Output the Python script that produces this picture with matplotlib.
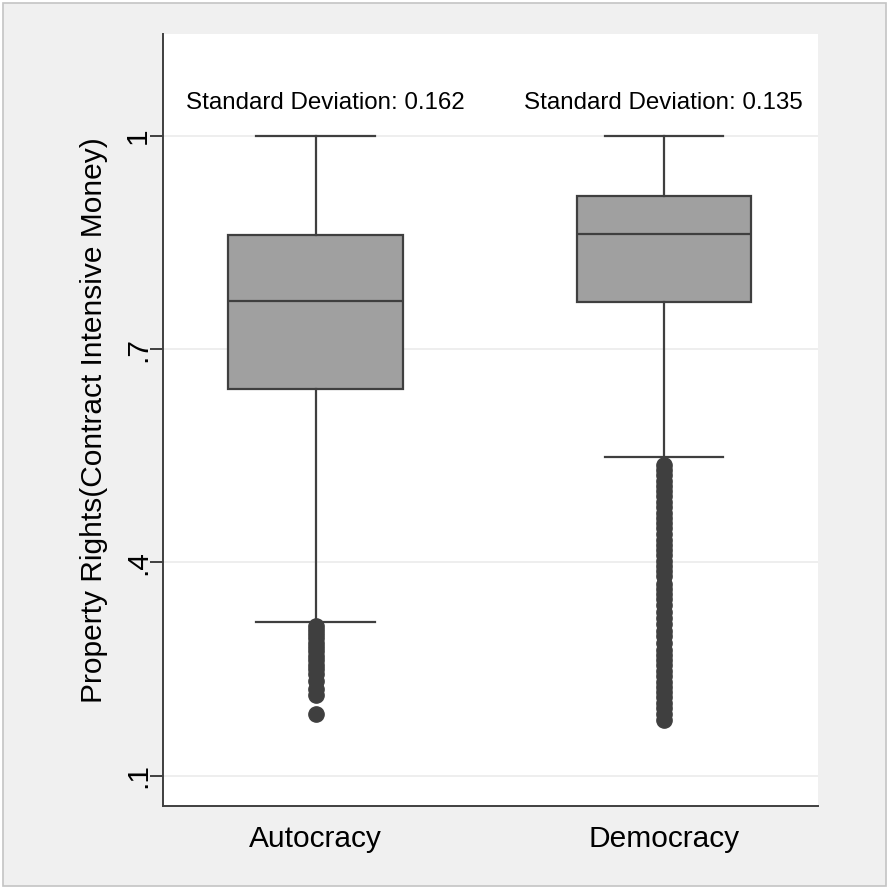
import matplotlib.pyplot as plt
from matplotlib.patches import Rectangle

# Box plot summary
regimes = ["Autocracy", "Democracy"]
medians = [0.768, 0.862]
q1s = [0.644, 0.766]
q3s = [0.861, 0.915]
whisker_lo = [0.316, 0.548]
whisker_hi = [1.0, 1.0]
std_devs = [0.162, 0.135]

autocracy_outliers = [0.310, 0.305, 0.299, 0.293, 0.287, 0.281, 0.275, 0.268,
                      0.262, 0.256, 0.250, 0.243, 0.233, 0.222, 0.214, 0.187]
democracy_outliers = [0.537, 0.530, 0.523, 0.515, 0.507, 0.500, 0.493, 0.485,
                      0.478, 0.470, 0.462, 0.455, 0.448, 0.440, 0.432, 0.425,
                      0.417, 0.410, 0.402, 0.395, 0.388, 0.381, 0.370, 0.363,
                      0.356, 0.349, 0.340, 0.330, 0.322, 0.313, 0.303, 0.296,
                      0.287, 0.277, 0.270, 0.262, 0.255, 0.247, 0.240, 0.232,
                      0.225, 0.217, 0.210, 0.202, 0.195, 0.187, 0.178]

y_ticks = [0.1, 0.4, 0.7, 1.0]
y_tick_labels = [".1", ".4", ".7", "1"]

plt.rcParams["font.family"] = ["Liberation Sans", "DejaVu Sans"]

dark = "#3f3f3f"
fig = plt.figure(figsize=(8.88, 8.88), dpi=100, facecolor="white")
fig.patches.append(Rectangle((3 / 888, 2 / 888), 883 / 888, 883 / 888,
                             transform=fig.transFigure, facecolor="#f0f0f0",
                             edgecolor="#c4c4c4", linewidth=1.2, zorder=-10))

ax = fig.add_axes([163 / 888, 82 / 888, 655 / 888, 772 / 888])
ax.set_facecolor("white")

stats = []
fliers = [autocracy_outliers, democracy_outliers]
for i, name in enumerate(regimes):
    stats.append(dict(label=name, med=medians[i], q1=q1s[i], q3=q3s[i],
                      whislo=whisker_lo[i], whishi=whisker_hi[i], fliers=fliers[i]))

ax.bxp(stats, positions=[1, 2], widths=0.502, patch_artist=True,
       boxprops=dict(facecolor="#a0a0a0", edgecolor=dark, linewidth=1.6),
       medianprops=dict(color=dark, linewidth=1.6),
       whiskerprops=dict(color=dark, linewidth=1.6),
       capprops=dict(color=dark, linewidth=1.6),
       capwidths=0.34,
       flierprops=dict(marker="o", markersize=11, markerfacecolor=dark,
                       markeredgecolor=dark, linestyle="none"),
       zorder=3)

for pos, sd in zip([1.027, 1.997], std_devs):
    ax.text(pos, 1.0464, f"Standard Deviation: {sd}", ha="center", va="center",
            fontsize=17.4, color="black")

ax.set_xlim(0.5616, 2.442)
ax.set_ylim(0.0571, 1.1435)
ax.set_yticks(y_ticks)
ax.set_yticklabels(y_tick_labels, rotation=90, va="center", fontsize=21.5)
ax.set_xticks([1, 2])
ax.set_xticklabels(regimes, fontsize=21.5)
ax.tick_params(axis="y", length=9.5, width=1.4, color=dark, pad=-1.5)
ax.tick_params(axis="x", length=0, pad=14)

ax.yaxis.grid(True, color="#ebebeb", linewidth=1.2, zorder=0)
ax.set_axisbelow(True)

for side in ["top", "right"]:
    ax.spines[side].set_visible(False)
for side in ["left", "bottom"]:
    ax.spines[side].set_color(dark)
    ax.spines[side].set_linewidth(1.4)

ax.set_ylabel("Property Rights(Contract Intensive Money)", fontsize=21.5)
ax.yaxis.set_label_coords(-0.084, 0.5)

fig.savefig("out.png", dpi=100, facecolor=fig.get_facecolor())
